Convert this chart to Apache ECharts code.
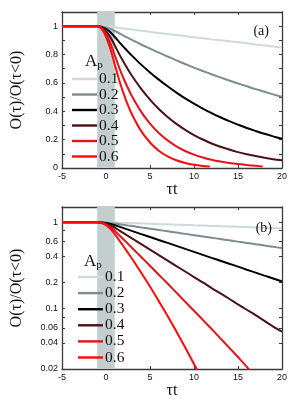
<!DOCTYPE html>
<html><head><meta charset="utf-8">
<script src="https://cdn.jsdelivr.net/npm/echarts@6/dist/echarts.min.js"></script>
<style>html,body{margin:0;padding:0;background:#fff}#c{width:291px;height:405px}</style>
</head><body><div id="c"></div>
<script>
// ---- data ----
const seriesNames = ['0.1', '0.2', '0.3', '0.4', '0.5', '0.6'];
const tauFull = [-5, -1, -0.5, 0, 0.5, 1, 1.5, 2, 2.5, 3, 4, 5, 6, 7, 8, 9, 10, 11, 12, 13, 14, 15, 16, 17, 18, 19, 20];
const tau05 = [-5, -1, -0.5, 0, 0.5, 1, 1.5, 2, 2.5, 3, 4, 5, 6, 7, 8, 9, 10, 11, 12, 13, 14, 15, 16, 17, 17.8];
const tau06 = [-5, -1, -0.5, 0, 0.5, 1, 1.5, 2, 2.5, 3, 4, 5, 6, 7, 8, 9, 10, 11, 11.8];
const ap01 = [1, 1, 0.9995, 0.998, 0.9955, 0.992, 0.988, 0.984, 0.980, 0.976, 0.968, 0.960, 0.952, 0.945, 0.937, 0.930, 0.922, 0.915, 0.907, 0.900, 0.893, 0.886, 0.879, 0.871, 0.864, 0.857, 0.850];
const ap02 = [1, 1, 0.998, 0.991, 0.981, 0.966, 0.950, 0.933, 0.917, 0.902, 0.871, 0.842, 0.813, 0.786, 0.759, 0.733, 0.708, 0.684, 0.661, 0.639, 0.617, 0.596, 0.576, 0.556, 0.538, 0.519, 0.502];
const ap03 = [1, 1, 0.995, 0.980, 0.957, 0.924, 0.888, 0.854, 0.821, 0.789, 0.729, 0.674, 0.623, 0.576, 0.532, 0.491, 0.454, 0.419, 0.387, 0.358, 0.331, 0.306, 0.282, 0.261, 0.241, 0.223, 0.206];
const ap04 = [1, 1, 0.991, 0.964, 0.921, 0.864, 0.803, 0.747, 0.694, 0.645, 0.558, 0.482, 0.416, 0.360, 0.311, 0.269, 0.232, 0.201, 0.173, 0.150, 0.130, 0.112, 0.097, 0.084, 0.072, 0.062, 0.054];
const ap05 = [1, 1, 0.986, 0.944, 0.879, 0.795, 0.708, 0.631, 0.562, 0.500, 0.396, 0.313, 0.247, 0.195, 0.153, 0.120, 0.0945, 0.0741, 0.0580, 0.0453, 0.0353, 0.0275, 0.0212, 0.0155, 0.0100];
const ap06 = [1, 1, 0.981, 0.925, 0.839, 0.729, 0.619, 0.524, 0.442, 0.372, 0.260, 0.180, 0.122, 0.082, 0.0544, 0.0355, 0.0229, 0.01455, 0.0100];
const shadeRange = [-1, 1];
const xTickLabels = ['-5', '0', '5', '10', '15', '20'];
const linYTickLabels = ['0', '0.2', '0.4', '0.6', '0.8', '1'];
const logYTickLabels = ['1', '0.6', '0.4', '0.2', '0.1', '0.06', '0.04', '0.02'];
const logYMinorTicks = [0.8, 0.08];

// ---- styling ----
const colors = ['#d0d9db', '#7c8c92', '#000000', '#4a1217', '#e0141a', '#ff0a0a'];
const serif = '"Liberation Serif", "DejaVu Serif", serif';
const sans = '"Liberation Sans", Arial, sans-serif';
const axisCol = '#3a3a3a';

const taus = [tauFull, tauFull, tauFull, tauFull, tau05, tau06];
const vals = [ap01, ap02, ap03, ap04, ap05, ap06];
const logMin = Math.log10(0.02), logMax = Math.log10(1.5);
const logTickVals = logYTickLabels.map(s => Math.log10(parseFloat(s)));
const logAllTicks = logYTickLabels.map(parseFloat).concat(logYMinorTicks).map(v => Math.log10(v));

function xAxes(gi) {
  const base = {
    type: 'value', gridIndex: gi, min: -5, max: 20, interval: 5,
    axisLine: { show: true, onZero: false, lineStyle: { color: axisCol, width: 1.3 } },
    axisTick: { show: true, inside: true, length: 3, lineStyle: { color: axisCol } },
    splitLine: { show: false }
  };
  return [
    Object.assign({}, base, {
      position: 'bottom',
      axisLabel: { show: true, fontFamily: sans, fontSize: 9, color: '#111', margin: 4,
        formatter: v => { const i = xTickLabels.indexOf(String(v)); return i >= 0 ? xTickLabels[i] : ''; } },
      name: 'τt', nameLocation: 'middle', nameGap: 14,
      nameTextStyle: { fontFamily: serif, fontSize: 16, color: '#111' }
    }),
    Object.assign({}, base, { position: 'top', axisLabel: { show: false } })
  ];
}

const apRich = { a: { fontFamily: serif, fontSize: 17, fontWeight: 'normal', color: '#111' }, p: { fontFamily: serif, fontSize: 11, fontWeight: 'normal', color: '#111', verticalAlign: 'bottom', padding: [7, 0, 0, 0] } };
const legendText = { fontFamily: serif, fontSize: 15.5, color: '#111', padding: [0, 0, 0, -3] };

const option = {
  animation: false,
  backgroundColor: '#fff',
  grid: [
    { left: 62, top: 12, width: 220, height: 156 },
    { left: 62, top: 207, width: 220, height: 162 }
  ],
  xAxis: xAxes(0).concat(xAxes(1)),
  yAxis: [
    {
      type: 'value', gridIndex: 0, min: 0, max: 1.1, interval: 0.1, position: 'left',
      axisLine: { show: true, onZero: false, lineStyle: { color: axisCol, width: 1.3 } },
      axisTick: { show: true, inside: true, length: 3, lineStyle: { color: axisCol } },
      splitLine: { show: false },
      axisLabel: { fontFamily: sans, fontSize: 9, color: '#111', margin: 4,
        formatter: v => { const s = String(Math.round(v * 10) / 10); return linYTickLabels.indexOf(s) >= 0 ? s : ''; } },
      name: 'O(τ)/O(τ<0)', nameLocation: 'middle', nameGap: 37, nameRotate: 90,
      nameTextStyle: { fontFamily: serif, fontSize: 16, color: '#111' }
    },
    {
      type: 'value', gridIndex: 0, min: 0, max: 1.1, interval: 0.1, position: 'right',
      axisLine: { show: true, onZero: false, lineStyle: { color: axisCol, width: 1.3 } },
      axisTick: { show: true, inside: true, length: 3, lineStyle: { color: axisCol } },
      splitLine: { show: false }, axisLabel: { show: false }
    },
    {
      type: 'value', gridIndex: 1, min: logMin, max: logMax, position: 'left',
      axisLine: { show: true, onZero: false, lineStyle: { color: axisCol, width: 1.3 } },
      axisTick: { show: true, inside: true, length: 3, customValues: logAllTicks, lineStyle: { color: axisCol } },
      splitLine: { show: false },
      axisLabel: { fontFamily: sans, fontSize: 9, color: '#111', margin: 4, customValues: logTickVals,
        formatter: v => {
          let best = 0, bd = 1e9;
          logTickVals.forEach((t, i) => { const d = Math.abs(t - v); if (d < bd) { bd = d; best = i; } });
          return logYTickLabels[best];
        } },
      name: 'O(τ)/O(τ<0)', nameLocation: 'middle', nameGap: 37, nameRotate: 90,
      nameTextStyle: { fontFamily: serif, fontSize: 16, color: '#111' }
    },
    {
      type: 'value', gridIndex: 1, min: logMin, max: logMax, position: 'right',
      axisLine: { show: true, onZero: false, lineStyle: { color: axisCol, width: 1.3 } },
      axisTick: { show: true, inside: true, length: 3, customValues: logAllTicks, lineStyle: { color: axisCol } },
      splitLine: { show: false }, axisLabel: { show: false }
    }
  ],
  legend: [
    { data: seriesNames, orient: 'vertical', left: 67, top: 66, itemWidth: 25, itemHeight: 12, itemGap: -0.5,
      icon: 'path://M0,0 L25,0 L25,2.4 L0,2.4 Z', textStyle: legendText },
    { data: seriesNames, orient: 'vertical', left: 73, top: 264, itemWidth: 25, itemHeight: 12, itemGap: 0.1,
      icon: 'path://M0,0 L25,0 L25,2.4 L0,2.4 Z', textStyle: legendText }
  ],
  title: [
    { text: '{a|A}{p|p}', left: 80, top: 48, textStyle: { rich: apRich } },
    { text: '{a|A}{p|p}', left: 79, top: 248, textStyle: { rich: apRich } },
    { text: '(a)', right: 17, top: 19, textStyle: { fontFamily: serif, fontSize: 14, fontWeight: 'normal', color: '#111' } },
    { text: '(b)', right: 14, top: 216, textStyle: { fontFamily: serif, fontSize: 14, fontWeight: 'normal', color: '#111' } }
  ],
  series: []
};

for (let g = 0; g < 2; g++) {
  seriesNames.forEach((name, i) => {
    const data = taus[i].map((t, k) => [t, g === 0 ? vals[i][k] : Math.log10(vals[i][k])]);
    const s = {
      name, type: 'line', xAxisIndex: g * 2, yAxisIndex: g * 2, data,
      symbol: 'none', smooth: 0.3, clip: true,
      lineStyle: { color: colors[i], width: 2 }, itemStyle: { color: colors[i] }, z: 3 + i
    };
    if (i === 0) {
      s.markArea = { silent: true, itemStyle: { color: '#c4cecf', opacity: 1 }, data: [[{ xAxis: shadeRange[0] }, { xAxis: shadeRange[1] }]] };
    }
    option.series.push(s);
  });
}

const chart = echarts.init(document.getElementById('c'), null, { renderer: 'canvas' });
chart.setOption(option);
</script></body></html>
